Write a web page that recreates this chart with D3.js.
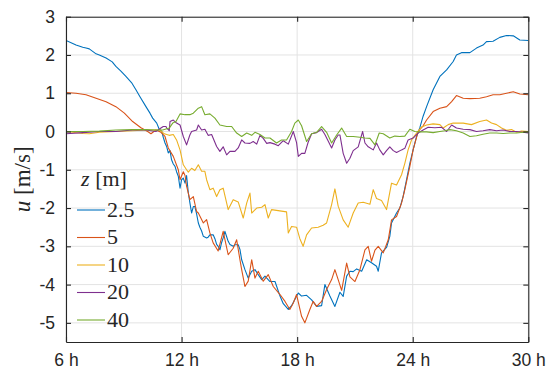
<!DOCTYPE html>
<html><head><meta charset="utf-8">
<script src="https://cdn.jsdelivr.net/npm/d3@7"></script>
</head>
<body style="margin:0;background:#fff">
<svg id="chart" width="560" height="374" style="display:block"></svg>
<script>
// ---------------- data ----------------
const xTickValues = [6, 12, 18, 24, 30];
const xTickLabels = ["6 h", "12 h", "18 h", "24 h", "30 h"];
const yTickValues = [-5, -4, -3, -2, -1, 0, 1, 2, 3];
const yTickLabels = ["-5", "-4", "-3", "-2", "-1", "0", "1", "2", "3"];
const seriesNames = ["2.5", "5", "10", "20", "40"];
const seriesColors = ["#0072BD", "#D95319", "#EDB120", "#7E2F8E", "#77AC30"];

// z = 2.5 m
const hours25 = [6.00,6.35,6.52,6.87,7.04,7.21,7.56,7.73,8.08,8.40,8.59,8.85,9.11,9.40,9.63,9.84,10.15,10.36,10.50,10.71,10.84,10.97,11.05,11.14,11.23,11.31,11.40,11.48,11.57,11.66,11.74,11.83,11.92,12.00,12.09,12.18,12.26,12.35,12.43,12.52,12.61,12.69,12.78,12.87,12.95,13.04,13.13,13.30,13.38,13.47,13.64,13.73,13.82,13.90,13.99,14.08,14.16,14.25,14.34,14.42,14.51,14.68,14.77,14.86,14.94,15.03,15.12,15.29,15.46,15.64,15.81,15.98,16.16,16.33,16.59,16.85,17.11,17.28,17.54,17.71,17.88,18.06,18.23,18.49,18.75,19.01,19.27,19.44,19.70,19.96,20.22,20.39,20.57,20.74,20.91,21.09,21.35,21.61,21.86,22.12,22.21,22.38,22.64,22.81,22.90,23.16,23.33,23.50,23.68,23.85,24.02,24.20,24.37,24.54,24.72,25.06,25.41,25.76,26.10,26.27,26.53,26.97,27.31,27.65,27.83,28.17,28.52,28.87,29.22,29.56,29.99];
const u25 = [2.38,2.30,2.26,2.20,2.18,2.16,2.03,2.00,1.92,1.82,1.70,1.58,1.44,1.28,1.09,0.91,0.65,0.48,0.35,0.22,0.06,0.00,-0.15,-0.30,-0.40,-0.56,-0.50,-0.74,-0.85,-0.91,-1.05,-1.17,-1.48,-1.26,-1.22,-1.35,-1.15,-1.60,-1.86,-2.13,-1.96,-1.96,-2.15,-2.39,-2.50,-2.60,-2.74,-2.78,-2.76,-2.70,-2.70,-2.80,-2.95,-3.00,-3.09,-2.90,-2.78,-2.61,-2.75,-2.87,-2.95,-3.00,-2.96,-2.96,-2.96,-3.08,-3.35,-3.61,-3.83,-3.65,-3.61,-3.74,-3.87,-3.78,-3.92,-3.92,-4.30,-4.50,-4.65,-4.55,-4.39,-4.22,-4.30,-4.28,-4.40,-4.57,-4.55,-4.00,-4.30,-4.57,-4.20,-4.31,-3.78,-3.65,-3.66,-3.59,-3.65,-3.35,-3.43,-3.52,-3.65,-3.17,-3.03,-2.74,-2.39,-2.13,-2.00,-1.70,-1.26,-0.83,-0.48,-0.13,0.10,0.40,0.65,1.09,1.44,1.61,1.83,2.00,2.06,2.06,2.18,2.26,2.35,2.36,2.46,2.51,2.50,2.39,2.38];

// z = 5 m
const hours5 = [6.00,6.52,7.04,7.56,8.08,8.59,9.03,9.46,9.89,10.24,10.41,10.67,10.93,11.14,11.31,11.57,11.83,11.92,12.09,12.18,12.26,12.43,12.61,12.78,12.87,13.13,13.30,13.47,13.64,13.90,14.16,14.42,14.68,14.86,15.03,15.12,15.29,15.46,15.64,15.81,15.98,16.24,16.50,16.76,17.11,17.37,17.62,17.80,17.97,18.23,18.40,18.66,18.83,19.01,19.27,19.53,19.79,19.96,20.13,20.31,20.57,20.74,21.00,21.26,21.52,21.69,21.86,22.04,22.21,22.47,22.73,22.90,23.16,23.42,23.59,23.85,24.02,24.28,24.54,24.72,25.06,25.41,25.76,26.02,26.27,26.62,26.97,27.48,27.83,28.17,28.52,28.87,29.22,29.56,29.99];
const u5 = [1.02,1.00,0.96,0.87,0.78,0.65,0.48,0.26,0.10,0.00,-0.06,0.04,-0.02,-0.13,-0.43,-0.65,-1.00,-1.26,-1.05,-1.15,-1.43,-1.78,-1.70,-2.09,-2.13,-2.39,-2.30,-2.65,-2.91,-3.12,-2.61,-3.22,-3.05,-2.83,-3.35,-3.61,-4.05,-3.91,-3.35,-3.83,-3.65,-3.91,-3.74,-4.05,-4.26,-4.44,-4.65,-4.48,-4.26,-4.83,-5.00,-4.65,-4.44,-4.57,-4.44,-4.13,-3.87,-3.61,-3.87,-4.15,-3.44,-3.80,-3.92,-3.61,-3.09,-3.00,-3.39,-3.10,-3.00,-3.17,-2.83,-2.31,-2.22,-1.87,-1.52,-0.91,-0.48,0.00,0.15,0.30,0.52,0.61,0.65,0.78,0.94,0.87,0.86,0.87,0.91,0.96,0.96,1.00,1.04,0.98,0.96];

// z = 10 m
const hours10 = [6.00,6.35,6.87,7.21,7.73,8.59,9.46,10.15,10.67,10.88,11.10,11.36,11.57,11.74,11.92,12.09,12.26,12.35,12.52,12.69,12.87,13.04,13.21,13.30,13.47,13.64,13.82,13.99,14.16,14.42,14.68,14.94,15.20,15.38,15.55,15.64,15.90,16.16,16.33,16.50,16.67,16.93,17.19,17.45,17.54,17.71,17.97,18.14,18.31,18.49,18.75,19.09,19.35,19.53,19.79,19.96,20.13,20.39,20.65,20.91,21.17,21.43,21.78,21.95,22.12,22.38,22.64,22.90,23.16,23.42,23.59,23.76,23.94,24.20,24.46,24.72,25.06,25.41,25.58,25.84,26.10,26.62,27.05,27.48,27.83,28.09,28.35,28.61,28.87,29.13,29.39,29.65,29.99];
const u10 = [0.00,-0.02,-0.05,-0.06,-0.02,0.00,0.02,0.04,0.04,0.04,-0.06,-0.10,-0.08,-0.22,-0.48,-0.87,-1.00,-1.06,-0.96,-1.02,-0.87,-1.04,-1.04,-1.26,-1.52,-1.48,-1.70,-1.52,-1.48,-2.04,-1.78,-1.84,-2.26,-1.87,-1.61,-2.13,-2.00,-1.98,-1.91,-2.26,-2.04,-2.06,-2.08,-2.10,-2.65,-2.48,-2.50,-2.80,-3.00,-2.70,-2.52,-2.50,-2.45,-2.39,-1.91,-1.50,-1.95,-2.31,-2.50,-2.13,-1.87,-1.85,-1.90,-1.52,-1.75,-1.80,-2.04,-1.35,-1.40,-1.13,-0.83,-0.48,-0.22,-0.04,0.12,0.17,0.20,0.18,0.09,0.18,0.22,0.22,0.18,0.26,0.30,0.22,0.18,0.09,0.03,0.05,-0.02,0.01,0.00];

// z = 20 m
const hours20 = [6.00,6.87,7.73,8.59,9.46,10.15,10.67,10.93,11.05,11.19,11.23,11.36,11.40,11.57,11.74,11.92,12.09,12.26,12.43,12.52,12.78,12.87,13.04,13.21,13.38,13.56,13.82,13.99,14.16,14.34,14.51,14.77,14.94,15.12,15.29,15.55,15.72,15.90,16.07,16.24,16.42,16.59,16.85,17.02,17.28,17.54,17.80,17.97,18.06,18.23,18.40,18.57,18.75,19.01,19.27,19.44,19.61,19.79,19.96,20.13,20.22,20.39,20.57,20.74,20.91,21.17,21.40,21.52,21.69,21.95,22.12,22.29,22.47,22.64,22.81,22.99,23.16,23.42,23.59,23.76,24.02,24.28,24.54,24.80,25.15,25.50,25.76,26.02,26.27,26.62,26.97,27.31,27.65,28.00,28.35,28.69,29.04,29.39,29.73,29.99];
const u20 = [-0.06,-0.03,0.00,0.00,0.04,0.04,0.00,0.09,0.13,0.13,0.09,0.02,0.26,0.30,0.22,0.17,-0.13,-0.35,-0.09,0.00,0.04,0.17,0.04,0.06,-0.10,-0.08,-0.39,-0.52,-0.40,-0.61,-0.52,-0.52,-0.43,-0.22,-0.30,-0.31,-0.26,-0.33,-0.10,-0.18,-0.31,-0.29,-0.33,-0.37,-0.24,-0.33,0.00,-0.29,-0.65,-0.57,-0.57,-0.28,-0.06,-0.03,0.06,-0.08,-0.25,-0.43,-0.22,-0.09,-0.09,-0.57,-0.83,-0.70,-0.50,-0.40,0.00,-0.30,-0.40,-0.48,-0.30,-0.48,-0.61,-0.50,-0.40,-0.50,-0.55,-0.48,-0.44,-0.22,-0.17,-0.04,0.04,0.11,0.10,0.11,0.00,0.17,0.09,0.06,0.05,0.00,0.02,0.05,0.02,0.04,0.00,0.00,-0.02,-0.04];

// z = 40 m
const hours40 = [6.00,6.87,7.73,8.59,9.46,10.15,10.67,11.02,11.36,11.54,11.71,11.92,12.18,12.43,12.61,12.87,13.04,13.21,13.47,13.73,13.99,14.34,14.60,14.86,15.12,15.38,15.64,15.81,16.07,16.33,16.59,16.93,17.19,17.45,17.71,17.88,18.06,18.23,18.49,18.75,19.01,19.27,19.53,19.79,20.05,20.31,20.57,20.91,21.26,21.52,21.78,22.04,22.26,22.47,22.81,23.07,23.33,23.59,23.85,24.11,24.37,24.72,25.06,25.41,25.67,25.93,26.27,26.62,26.97,27.31,27.65,28.00,28.35,28.69,29.04,29.39,29.73,29.99];
const u40 = [0.00,0.00,0.01,0.04,0.05,0.05,0.04,0.04,0.09,0.22,0.26,0.46,0.44,0.44,0.48,0.61,0.65,0.44,0.46,0.35,0.17,0.13,0.13,-0.04,-0.13,-0.04,-0.10,-0.02,-0.08,-0.17,-0.17,-0.30,-0.22,-0.22,0.00,0.22,0.30,0.15,-0.26,-0.06,-0.02,0.13,-0.02,-0.30,-0.09,0.09,-0.13,-0.13,-0.15,-0.17,-0.18,-0.35,-0.04,-0.06,-0.17,-0.12,-0.13,-0.12,0.06,0.00,-0.01,-0.01,-0.03,0.00,0.02,0.05,0.02,-0.04,-0.13,-0.11,-0.07,-0.04,-0.04,-0.05,-0.04,-0.04,-0.02,-0.01];

const seriesHours = [hours25, hours5, hours10, hours20, hours40];
const seriesValues = [u25, u5, u10, u20, u40];

// ---------------- drawing ----------------
const W = 560, H = 374;
const margin = {left: 66, right: 31.7, top: 16.7, bottom: 32};
const iw = W - margin.left - margin.right;
const ih = H - margin.top - margin.bottom;

const svg = d3.select("#chart");
const x = d3.scaleLinear().domain([6, 30]).range([margin.left, margin.left + iw]);
const y = d3.scaleLinear().domain([-5.5, 3]).range([margin.top + ih, margin.top]);

const axisColor = "#262626";
const gridColor = "#e3e3e3";
const sansFamily = "Liberation Sans";
const serifFamily = "Liberation Serif";

// grid
const grid = svg.append("g");
grid.selectAll("line.gx").data(xTickValues).join("line")
  .attr("x1", d => x(d)).attr("x2", d => x(d))
  .attr("y1", margin.top).attr("y2", margin.top + ih)
  .attr("stroke", gridColor).attr("stroke-width", 1);
grid.selectAll("line.gy").data(yTickValues).join("line")
  .attr("x1", margin.left).attr("x2", margin.left + iw)
  .attr("y1", d => y(d)).attr("y2", d => y(d))
  .attr("stroke", gridColor).attr("stroke-width", 1);

// clip
svg.append("clipPath").attr("id", "clip").append("rect")
  .attr("x", margin.left).attr("y", margin.top).attr("width", iw).attr("height", ih);

const line = d3.line().x(d => x(d[0])).y(d => y(d[1]));
const plot = svg.append("g").attr("clip-path", "url(#clip)");
seriesValues.forEach((vals, i) => {
  const pts = seriesHours[i].map((h, k) => [h, vals[k]]);
  plot.append("path").datum(pts)
    .attr("d", line)
    .attr("fill", "none")
    .attr("stroke", seriesColors[i])
    .attr("stroke-width", 1.1)
    .attr("stroke-linejoin", "round");
});

// axes (MATLAB-style box with inward ticks)
const tl = 5;
const xAxisB = d3.axisBottom(x).tickValues(xTickValues).tickSizeInner(-tl).tickSizeOuter(0)
  .tickPadding(12).tickFormat((d, i) => xTickLabels[i]);
const xAxisT = d3.axisTop(x).tickValues(xTickValues).tickSizeInner(-tl).tickSizeOuter(0).tickFormat("");
const yAxisL = d3.axisLeft(y).tickValues(yTickValues).tickSizeInner(-tl).tickSizeOuter(0)
  .tickPadding(11).tickFormat((d, i) => yTickLabels[i]);
const yAxisR = d3.axisRight(y).tickValues(yTickValues).tickSizeInner(-tl).tickSizeOuter(0).tickFormat("");

function style(g) {
  g.attr("font-family", sansFamily).attr("font-size", 17.5);
  g.selectAll("path.domain").attr("stroke", axisColor).attr("stroke-width", 1.1);
  g.selectAll(".tick line").attr("stroke", axisColor).attr("stroke-width", 1.1);
  g.selectAll(".tick text").attr("fill", axisColor);
}
svg.append("g").attr("transform", `translate(0,${margin.top + ih})`).call(xAxisB).call(style);
svg.append("g").attr("transform", `translate(0,${margin.top})`).call(xAxisT).call(style);
svg.append("g").attr("transform", `translate(${margin.left},0)`).call(yAxisL).call(style);
svg.append("g").attr("transform", `translate(${margin.left + iw},0)`).call(yAxisR).call(style);

// y label (serif, like the LaTeX label of the reference)
const yl = svg.append("text")
  .attr("transform", `translate(30,${margin.top + ih / 2}) rotate(-90)`)
  .attr("text-anchor", "middle")
  .attr("fill", axisColor)
  .attr("font-family", serifFamily)
  .attr("font-size", 23);
yl.append("tspan").attr("font-family", serifFamily).attr("font-style", "italic").text("u");
yl.append("tspan").attr("font-family", serifFamily).text(" [m/s]");

// legend (no box)
const lt = svg.append("text").attr("x", 104).attr("y", 186)
  .attr("text-anchor", "middle").attr("fill", axisColor)
  .attr("font-family", serifFamily).attr("font-size", 22);
lt.append("tspan").attr("font-family", serifFamily).attr("font-style", "italic").text("z");
lt.append("tspan").attr("font-family", serifFamily).text(" [m]");

const legendY0 = 210, legendDy = 27.5;
seriesNames.forEach((name, i) => {
  const yy = legendY0 + i * legendDy;
  svg.append("line").attr("x1", 77).attr("x2", 105).attr("y1", yy).attr("y2", yy)
    .attr("stroke", seriesColors[i]).attr("stroke-width", 1.1);
  svg.append("text").attr("x", 107).attr("y", yy + 6.5)
    .attr("fill", axisColor).attr("font-family", serifFamily).attr("font-size", 22)
    .text(name);
});
</script>
</body></html>
